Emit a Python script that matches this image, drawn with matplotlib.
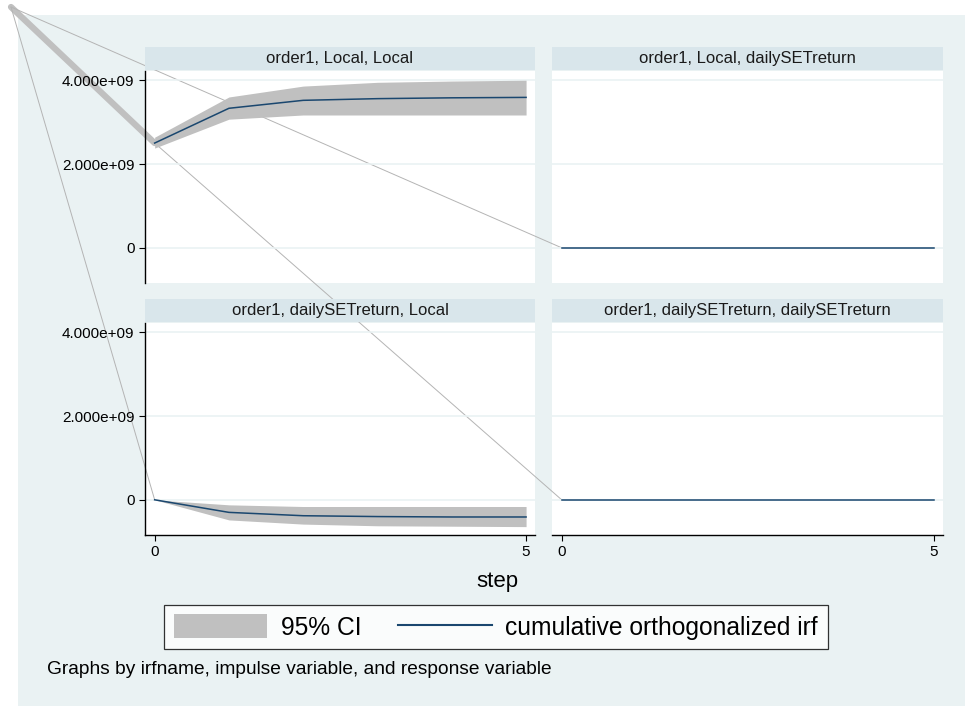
import numpy as np
import matplotlib
matplotlib.use('Agg')
import matplotlib.pyplot as plt
from matplotlib.patches import Rectangle, Patch, ConnectionPatch
from matplotlib.lines import Line2D

plt.rcParams['font.family'] = ['Liberation Sans', 'DejaVu Sans']

# impulse response steps
steps = [0, 1, 2, 3, 4, 5]

# order1, Local -> Local
irf_ll = [2.50e9, 3.33e9, 3.52e9, 3.56e9, 3.58e9, 3.59e9]
lo_ll = [2.38e9, 3.07e9, 3.17e9, 3.17e9, 3.17e9, 3.17e9]
hi_ll = [2.64e9, 3.60e9, 3.86e9, 3.95e9, 3.98e9, 4.00e9]

# order1, Local -> dailySETreturn
irf_ld = [0, 0, 0, 0, 0, 0]
lo_ld = [0, 0, 0, 0, 0, 0]
hi_ld = [0, 0, 0, 0, 0, 0]

# order1, dailySETreturn -> Local
irf_dl = [0, -0.30e9, -0.38e9, -0.40e9, -0.41e9, -0.41e9]
lo_dl = [0, -0.48e9, -0.58e9, -0.62e9, -0.63e9, -0.64e9]
hi_dl = [0, -0.12e9, -0.16e9, -0.16e9, -0.16e9, -0.16e9]

# order1, dailySETreturn -> dailySETreturn
irf_dd = [0, 0, 0, 0, 0, 0]
lo_dd = [0, 0, 0, 0, 0, 0]
hi_dd = [0, 0, 0, 0, 0, 0]

titles = ['order1, Local, Local', 'order1, Local, dailySETreturn',
          'order1, dailySETreturn, Local', 'order1, dailySETreturn, dailySETreturn']
yticks = [0, 2e9, 4e9]
yticklabels = ['0', '2.000e+09', '4.000e+09']

bg = '#eaf2f3'
strip = '#d9e6eb'
navy = '#1a476f'
ci_col = '#c0c0c0'
stray = '#b4b4b4'

W, H = 965, 706
fig = plt.figure(figsize=(W / 100, H / 100), dpi=100, facecolor='white')
fig.add_artist(Rectangle((18 / W, -0.05), 1.0, 1.05 - 15 / H,
                         transform=fig.transFigure, facecolor=bg,
                         edgecolor='none', zorder=-10))


def box(x0, y0, x1, y1):
    return [x0 / W, 1 - y1 / H, (x1 - x0) / W, (y1 - y0) / H]


boxes = [box(145, 71, 535, 283), box(552, 71, 943, 283),
         box(145, 323, 535, 535), box(552, 323, 943, 535)]
series = [(irf_ll, lo_ll, hi_ll), (irf_ld, lo_ld, hi_ld),
          (irf_dl, lo_dl, hi_dl), (irf_dd, lo_dd, hi_dd)]

axes = []
for i, (b, (irf, lo, hi)) in enumerate(zip(boxes, series)):
    ax = fig.add_axes(b)
    # white plot area drawn at figure level so the stray segments sit above it
    fig.add_artist(Rectangle((b[0], b[1]), b[2], b[3], transform=fig.transFigure,
                             facecolor='white', edgecolor='none', zorder=-5))
    ax.set_facecolor('none')
    ax.set_zorder(10)
    ax.fill_between(steps, lo, hi, color=ci_col, linewidth=0, zorder=2)
    ax.plot(steps, irf, color=navy, lw=1.1, zorder=3)
    ax.set_xlim(-0.13, 5.12)
    ax.set_ylim(-0.84e9, 4.22e9)
    for v in yticks:
        ax.axhline(v, color=bg, lw=1.2, zorder=1)
    for s in ax.spines.values():
        s.set_visible(False)
    ax.set_yticks(yticks)
    ax.set_yticklabels(yticklabels)
    ax.set_xticks([0, 5])
    ax.set_xticklabels(['0', '5'])
    ax.tick_params(axis='both', labelsize=11, length=4.5, width=0.8,
                   direction='out', pad=3, colors='black')
    if i % 2 == 0:
        ax.spines['left'].set_visible(True)
        ax.spines['left'].set_color('black')
        ax.spines['left'].set_linewidth(1.0)
    else:
        ax.tick_params(axis='y', left=False, labelleft=False)
    if i >= 2:
        ax.spines['bottom'].set_visible(True)
        ax.spines['bottom'].set_color('black')
        ax.spines['bottom'].set_linewidth(1.0)
    else:
        ax.tick_params(axis='x', bottom=False, labelbottom=False)
    # panel title strip
    sh = 23 / 212
    ax.add_patch(Rectangle((0, 1.004), 1, sh, transform=ax.transAxes,
                           facecolor=strip, edgecolor='none', clip_on=False))
    ax.text(0.5, 1.004 + sh / 2, titles[i], transform=ax.transAxes,
            ha='center', va='center', fontsize=12, color='#1a1a1a')
    axes.append(ax)

# stray path segments from the page corner
corner = (11 / W, 1 - 7 / H)
fig.add_artist(ConnectionPatch(corner, (steps[0], irf_ll[0]), coordsA=fig.transFigure,
                               coordsB=axes[0].transData, color=ci_col, lw=4.5,
                               zorder=5))
fig.add_artist(ConnectionPatch(corner, (steps[0], irf_ld[0]), coordsA=fig.transFigure,
                               coordsB=axes[1].transData, color=stray, lw=0.7,
                               zorder=5))
fig.add_artist(ConnectionPatch(corner, (steps[0], irf_dl[0]), coordsA=fig.transFigure,
                               coordsB=axes[2].transData, color=stray, lw=0.7,
                               zorder=5))
fig.add_artist(ConnectionPatch((steps[0], irf_ll[0]), (steps[0], irf_dd[0]),
                               coordsA=axes[0].transData, coordsB=axes[3].transData,
                               color=stray, lw=0.7, zorder=5))

fig.text(497 / W, 1 - 582 / H, 'step', ha='center', va='center', fontsize=16)

handles = [Patch(facecolor=ci_col, edgecolor='none'),
           Line2D([0], [0], color=navy, lw=1.5)]
leg = fig.legend(handles, ['95% CI', 'cumulative orthogonalized irf'],
                 loc='center', bbox_to_anchor=(496 / W, 1 - 627 / H), ncol=2,
                 fontsize=17.7, frameon=True, fancybox=False, handlelength=3.8,
                 handleheight=1.1, handletextpad=0.55, columnspacing=1.5,
                 borderpad=0.4)
leg.get_frame().set_edgecolor('black')
leg.get_frame().set_linewidth(0.9)
leg.get_frame().set_facecolor('white')

fig.text(47 / W, 1 - 669 / H, 'Graphs by irfname, impulse variable, and response variable',
         ha='left', va='center', fontsize=13.8)

fig.savefig('out.png', dpi=100, facecolor=fig.get_facecolor())
